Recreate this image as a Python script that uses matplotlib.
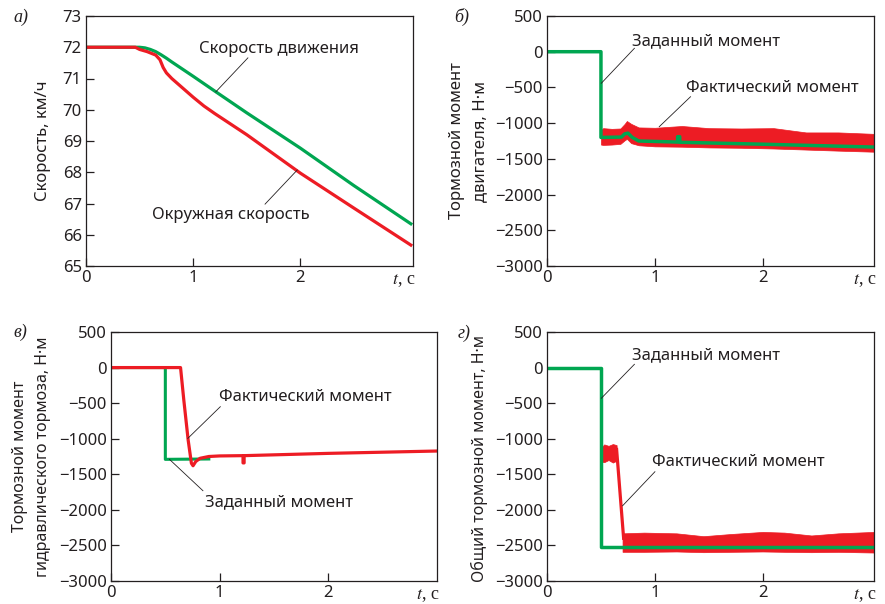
import matplotlib
matplotlib.use("Agg")
import matplotlib.pyplot as plt

plt.rcParams["font.family"] = ["Noto Sans", "DejaVu Sans"]
plt.rcParams["mathtext.fontset"] = "stix"

GREEN = "#00a651"
RED = "#ed1c24"
INK = "#231f20"

# --- panel a: speed, km/h ---
a_green_t = [0, 0.45, 0.5, 0.55, 0.6, 0.65, 0.7, 0.75, 0.8, 0.9, 1.0, 1.2, 1.5, 2.0, 2.5, 3.03]
a_green_v = [72.0, 72.0, 72.0, 71.98, 71.93, 71.86, 71.76, 71.65, 71.53, 71.3, 71.07, 70.6, 69.9, 68.77, 67.57, 66.35]
a_red_t = [0, 0.46, 0.5, 0.57, 0.65, 0.69, 0.72, 0.75, 0.8, 0.9, 1.0, 1.1, 1.2, 1.5, 2.0, 2.5, 3.03]
a_red_v = [72.0, 72.0, 71.93, 71.86, 71.75, 71.6, 71.35, 71.18, 71.0, 70.7, 70.4, 70.12, 69.88, 69.2, 67.97, 66.85, 65.67]

# --- panel b: motor braking torque ---
b_green_t = [0, 0.5, 0.5, 0.69, 0.72, 0.75, 0.79, 0.85, 1.21, 1.21, 1.23, 1.23, 2.0, 3.03]
b_green_v = [0, 0, -1200, -1195, -1150, -1140, -1200, -1250, -1265, -1190, -1190, -1268, -1295, -1335]
b_red_t = [0.5, 0.52, 0.6, 0.68, 0.72, 0.74, 0.78, 0.85, 1.0, 1.25, 1.5, 1.8, 2.1, 2.4, 2.7, 3.03]
b_red_hi = [-1100, -1070, -1080, -1075, -1010, -970, -1010, -1060, -1065, -1040, -1070, -1075, -1070, -1130, -1130, -1150]
b_red_lo = [-1300, -1305, -1300, -1290, -1240, -1220, -1280, -1310, -1325, -1330, -1340, -1345, -1355, -1370, -1385, -1400]

# --- panel c: hydraulic brake torque ---
c_green_t = [0, 0.5, 0.5, 0.9]
c_green_v = [0, 0, -1290, -1285]
c_red_t = [0, 0.64, 0.67, 0.71, 0.74, 0.755, 0.78, 0.82, 0.9, 1.0, 1.215, 1.215, 1.225, 1.225, 2.0, 3.0]
c_red_v = [0, 0, -456, -1018, -1346, -1380, -1320, -1275, -1250, -1242, -1238, -1340, -1340, -1238, -1206, -1173]

# --- panel d: total braking torque ---
d_green_t = [0, 0.5, 0.5, 3.03]
d_green_v = [0, 0, -2520, -2520]
d_red1_t = [0.5, 0.53, 0.57, 0.61, 0.645]
d_red1_hi = [-1130, -1080, -1100, -1075, -1090]
d_red1_lo = [-1320, -1330, -1300, -1335, -1310]
d_red_drop_t = [0.645, 0.71]
d_red_drop_v = [-1150, -2400]
d_red2_t = [0.7, 0.9, 1.2, 1.45, 1.7, 2.0, 2.2, 2.45, 2.7, 3.03]
d_red2_hi = [-2330, -2320, -2330, -2370, -2340, -2310, -2320, -2360, -2330, -2310]
d_red2_lo = [-2590, -2590, -2585, -2595, -2590, -2585, -2590, -2595, -2590, -2600]

W, H = 885, 604
fig = plt.figure(figsize=(W / 100, H / 100), dpi=100)


def px_axes(left, top, right, bottom):
    return fig.add_axes([left / W, 1 - bottom / H, (right - left) / W, (bottom - top) / H])


def style(ax, xmax, ylim, yticks):
    ax.set_xlim(0, xmax)
    ax.set_ylim(*ylim)
    ax.set_xticks([0, 1, 2])
    ax.set_yticks(yticks)
    ax.tick_params(direction="in", length=6, width=0.9, colors=INK, labelsize=12, pad=3)
    for s in ax.spines.values():
        s.set_color(INK)
        s.set_linewidth(0.9)
    ax.annotate(r"$t$, с", xy=(1, 0), xycoords="axes fraction", xytext=(2, -4),
                textcoords="offset points", ha="right", va="top", fontsize=13,
                family="Liberation Serif", color=INK)


def note(ax, text, xy_text, p0, p1):
    ax.text(*xy_text, text, ha="center", va="center", fontsize=12, color=INK)
    ax.plot([p0[0], p1[0]], [p0[1], p1[1]], color=INK, lw=0.6)


def side_label(ax, x, text, size=12, y=0.5):
    ax.text(x, y, text, rotation=90, ha="center", va="center", fontsize=size,
            color=INK, transform=ax.transAxes)


torque_ticks = [500, 0, -500, -1000, -1500, -2000, -2500, -3000]

# a)
ax = px_axes(86, 16, 413, 266)
ax.plot(a_green_t, a_green_v, color=GREEN, lw=2.3)
ax.plot(a_red_t, a_red_v, color=RED, lw=2.3)
style(ax, 3.05, (65, 73), range(65, 74))
side_label(ax, -0.13, "Скорость, км/ч")
note(ax, "Скорость движения", (1.8, 71.95), (1.51, 71.66), (1.21, 70.57))
note(ax, "Окружная скорость", (1.35, 66.63), (1.67, 66.98), (1.97, 68.07))

# б)
ax = px_axes(547, 16, 874, 266)
ax.fill_between(b_red_t, b_red_lo, b_red_hi, color=RED, lw=0.5)
ax.plot(b_green_t, b_green_v, color=GREEN, lw=2.5)
style(ax, 3.03, (-3000, 500), torque_ticks)
side_label(ax, -0.275, "Тормозной момент")
side_label(ax, -0.205, "двигателя, Н·м")
note(ax, "Заданный момент", (1.475, 154), (0.81, 48), (0.503, -442))
note(ax, "Фактический момент", (2.09, -512), (1.33, -630), (1.04, -1050))

# в)
ax = px_axes(111, 332, 437, 581)
ax.plot(c_green_t, c_green_v, color=GREEN, lw=2.2)
ax.plot(c_red_t, c_red_v, color=RED, lw=2.3)
style(ax, 3.0, (-3000, 500), torque_ticks)
side_label(ax, -0.279, "Тормозной момент", 11.5)
side_label(ax, -0.209, "гидравлического тормоза, Н·м", 11.5)
note(ax, "Фактический момент", (1.785, -409), (1.006, -550), (0.707, -995))
note(ax, "Заданный момент", (1.55, -1886), (0.846, -1731), (0.538, -1290))

# г)
ax = px_axes(547, 332, 874, 581)
ax.fill_between(d_red1_t, d_red1_lo, d_red1_hi, color=RED, lw=0.5)
ax.plot(d_red_drop_t, d_red_drop_v, color=RED, lw=2.3)
ax.fill_between(d_red2_t, d_red2_lo, d_red2_hi, color=RED, lw=0.5)
ax.plot(d_green_t, d_green_v, color=GREEN, lw=2.5)
style(ax, 3.03, (-3000, 500), torque_ticks)
side_label(ax, -0.205, "Общий тормозной момент, Н·м", 11.5, 0.49)
note(ax, "Заданный момент", (1.475, 177), (0.81, 46), (0.503, -432))
note(ax, "Фактический момент", (1.77, -1323), (1.0, -1464), (0.70, -1943))

for label, x, y in [("а)", 21, 17), ("б)", 462, 17), ("в)", 20, 332), ("г)", 464, 333)]:
    fig.text(x / W, 1 - y / H, label, ha="center", va="center", fontsize=13,
             family="Liberation Serif", style="italic", color=INK)

fig.savefig("out.png", dpi=100)
